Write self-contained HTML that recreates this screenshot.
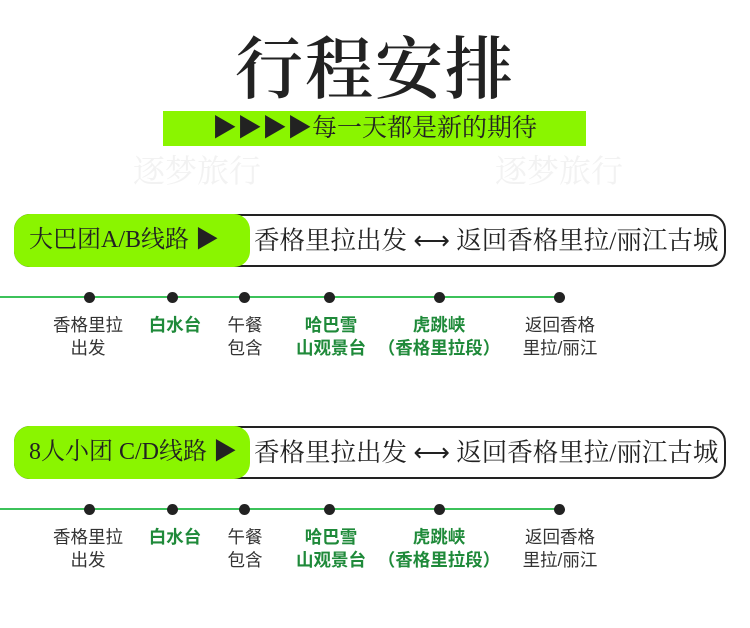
<!DOCTYPE html>
<html><head><meta charset="utf-8"><style>
body{margin:0;width:750px;height:628px;background:#fff;position:relative;overflow:hidden;font-family:"Liberation Sans","Noto Sans CJK SC",sans-serif}
.a{position:absolute}
.title{left:0;width:750px;top:30px;text-align:center;font-family:"Liberation Serif","Noto Serif CJK SC",serif;font-size:68px;font-weight:600;color:#222;letter-spacing:2px;line-height:80px}
.bar{left:163px;top:111px;width:423px;height:35px;background:#8af500;font-family:"Liberation Serif","Noto Serif CJK SC",serif;font-size:25px;line-height:35px;text-align:center;color:#222}
.box{left:14px;width:708px;height:49px;border:2px solid #222;border-radius:16px;background:#fff}
.pill{left:14px;width:236px;height:53px;background:#8af500;border-radius:16px;font-family:"Liberation Serif","Noto Serif CJK SC",serif;font-size:24px;line-height:53px;color:#222;text-indent:15px}
.rt{left:254px;font-family:"Liberation Serif","Noto Serif CJK SC",serif;font-size:25.5px;line-height:53px;color:#222;white-space:nowrap}
.line{left:0;width:559px;height:2px;background:#3cc25a}
.dot{width:11px;height:11px;border-radius:50%;background:#222}
.lb{font-size:17.5px;line-height:23px;text-align:center;color:#333;width:120px;margin-left:-60px}
.g{color:#1f8a3a;font-weight:bold}
.wm{font-family:"Liberation Serif","Noto Serif CJK SC",serif;font-size:32px;color:#f2f2f2}
</style></head><body>
<div class="a wm" style="left:133px;top:146px">逐梦旅行</div>
<div class="a wm" style="left:495px;top:146px">逐梦旅行</div>
<div class="a title">行程安排</div>
<div class="a bar">▶▶▶▶每一天都是新的期待</div>

<div class="a box" style="top:214px"></div>
<div class="a pill" style="top:214px">大巴团A/B线路 ▶</div>
<div class="a rt" style="top:214px">香格里拉出发 ⟷ 返回香格里拉/丽江古城</div>
<div class="a line" style="top:296px"></div>
<div class="a dot" style="left:84px;top:292px"></div><div class="a dot" style="left:167px;top:292px"></div><div class="a dot" style="left:239px;top:292px"></div><div class="a dot" style="left:324px;top:292px"></div><div class="a dot" style="left:434px;top:292px"></div><div class="a dot" style="left:554px;top:292px"></div>
<div class="a lb" style="left:88px;top:314px">香格里拉<br>出发</div>
<div class="a lb g" style="left:175px;top:314px">白水台</div>
<div class="a lb" style="left:245px;top:314px">午餐<br>包含</div>
<div class="a lb g" style="left:331px;top:314px">哈巴雪<br>山观景台</div>
<div class="a lb g" style="left:439px;top:314px;width:180px;margin-left:-90px">虎跳峡<br>（香格里拉段）</div>
<div class="a lb" style="left:560px;top:314px">返回香格<br>里拉/丽江</div>

<div class="a box" style="top:426px"></div>
<div class="a pill" style="top:426px">8人小团 C/D线路 ▶</div>
<div class="a rt" style="top:426px">香格里拉出发 ⟷ 返回香格里拉/丽江古城</div>
<div class="a line" style="top:508px"></div>
<div class="a dot" style="left:84px;top:504px"></div><div class="a dot" style="left:167px;top:504px"></div><div class="a dot" style="left:239px;top:504px"></div><div class="a dot" style="left:324px;top:504px"></div><div class="a dot" style="left:434px;top:504px"></div><div class="a dot" style="left:554px;top:504px"></div>
<div class="a lb" style="left:88px;top:526px">香格里拉<br>出发</div>
<div class="a lb g" style="left:175px;top:526px">白水台</div>
<div class="a lb" style="left:245px;top:526px">午餐<br>包含</div>
<div class="a lb g" style="left:331px;top:526px">哈巴雪<br>山观景台</div>
<div class="a lb g" style="left:439px;top:526px;width:180px;margin-left:-90px">虎跳峡<br>（香格里拉段）</div>
<div class="a lb" style="left:560px;top:526px">返回香格<br>里拉/丽江</div>
</body></html>
